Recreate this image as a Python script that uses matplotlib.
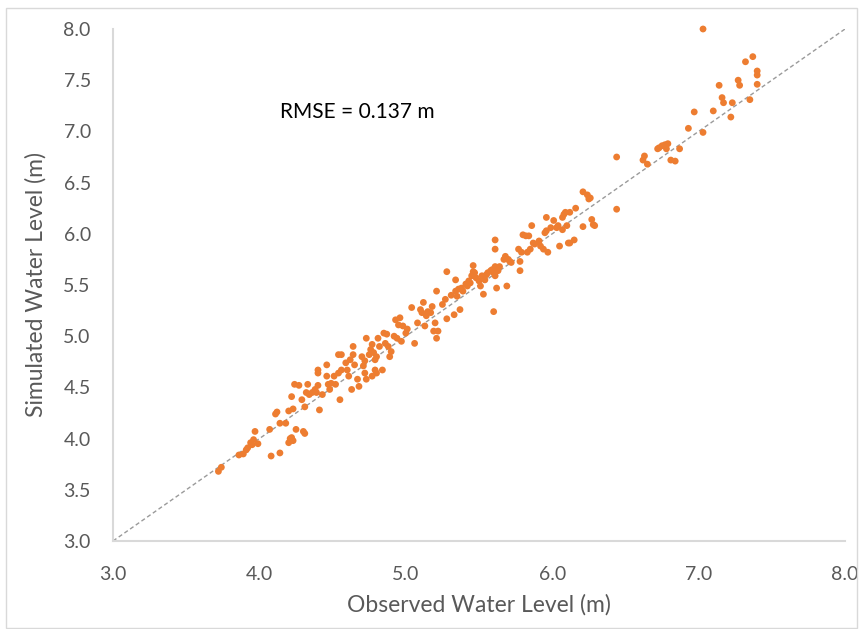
import matplotlib.pyplot as plt
from matplotlib.patches import Rectangle

plt.rcParams['font.family'] = ['Lato', 'DejaVu Sans']

# observed / simulated water level pairs (m)
obs = [3.72, 3.74,
       3.86, 3.89, 3.91, 3.92, 3.95, 3.96, 3.97, 3.99, 3.94, 4.08, 4.14, 4.07, 4.11, 4.12,
       4.14, 4.18, 4.20, 4.23, 4.22, 4.24, 4.27, 4.29, 4.31, 4.33, 4.34, 4.32, 4.21, 4.22,
       4.20, 4.23, 4.25, 4.31, 4.30, 4.36, 4.38, 4.39, 4.40, 4.41, 4.43, 4.40, 4.40, 4.46,
       4.47, 4.46, 4.48, 4.49, 4.51, 4.52, 4.54, 4.54, 4.55, 4.56,
       4.56, 4.59, 4.60, 4.62, 4.64, 4.64, 4.65, 4.61, 4.63, 4.67, 4.68, 4.70, 4.71, 4.72,
       4.73, 4.75, 4.76, 4.77, 4.78, 4.79, 4.80, 4.81, 4.79, 4.80, 4.77, 4.73, 4.72, 4.82,
       4.84, 4.85, 4.86, 4.87, 4.88, 4.89, 4.90, 4.92, 4.93, 4.94, 4.96, 4.97, 4.95, 4.98,
       5.00, 5.01, 5.04, 5.06, 5.08, 5.10, 5.11, 5.12, 5.13, 5.14, 5.15, 5.17, 5.18, 5.19,
       5.20, 5.21, 5.21, 5.22,
       5.25, 5.27, 5.28, 5.31, 5.33, 5.34, 5.35, 5.36, 5.37, 5.38, 5.39, 5.41, 5.42, 5.43,
       5.44, 5.45, 5.46, 5.47, 5.48, 5.50, 5.51, 5.52, 5.53, 5.54, 5.55, 5.56, 5.58, 5.59,
       5.60, 5.61, 5.60, 5.61, 5.62, 5.63, 5.64, 5.67, 5.68, 5.69, 5.70, 5.71, 5.72, 5.78,
       5.78, 5.77, 5.79, 5.80, 5.82, 5.83, 5.84, 5.85, 5.86, 5.87, 5.88, 5.91, 5.92, 5.94,
       5.95, 5.96, 5.97, 5.99, 6.01, 6.03, 6.05, 6.07, 6.10, 6.11, 5.46, 5.28, 5.34, 5.61,
       5.61,
       5.96, 6.04, 6.07, 6.08, 6.09, 6.12, 6.16, 6.12, 6.15, 6.21, 6.27, 6.28, 6.29, 6.21,
       6.24, 6.25, 6.26, 6.44, 6.44,
       6.63, 6.62, 6.65, 6.73, 6.72, 6.75, 6.77, 6.79, 6.78, 6.81, 6.84, 6.87, 6.93, 6.97,
       7.03, 7.10, 7.14, 7.16, 7.17, 7.22, 7.23, 7.27, 7.28, 7.32, 7.35, 7.37, 7.40, 7.40,
       7.40, 7.03]
sim = [3.68, 3.72,
       3.84, 3.85, 3.89, 3.91, 3.94, 3.99, 4.07, 3.95, 3.96, 3.83, 3.86, 4.09, 4.24, 4.26,
       4.15, 4.15, 4.27, 4.29, 4.41, 4.53, 4.52, 4.38, 4.31, 4.53, 4.43, 4.45, 4.00, 4.01,
       3.96, 3.98, 4.09, 4.05, 4.07, 4.45, 4.48, 4.45, 4.52, 4.28, 4.43, 4.64, 4.67, 4.72,
       4.53, 4.61, 4.48, 4.54, 4.61, 4.53, 4.64, 4.82, 4.38, 4.67,
       4.82, 4.74, 4.67, 4.77, 4.90, 4.82, 4.72, 4.61, 4.48, 4.58, 4.51, 4.80, 4.71, 4.76,
       4.98, 4.82, 4.87, 4.92, 4.84, 4.77, 4.80, 4.98, 4.67, 4.64, 4.61, 4.58, 4.64, 4.90,
       4.67, 5.03, 4.93, 5.02, 4.90, 4.80, 4.85, 5.00, 5.16, 4.98, 5.18, 4.95, 5.11, 5.10,
       5.03, 5.07, 5.28, 4.93, 5.13, 5.26, 5.23, 5.33, 5.10, 5.20, 5.24, 5.23, 5.29, 5.05,
       5.13, 5.44, 4.98, 5.05,
       5.31, 5.36, 5.17, 5.40, 5.21, 5.44, 5.39, 5.46, 5.26, 5.47, 5.44, 5.51, 5.49, 5.54,
       5.52, 5.59, 5.69, 5.62, 5.57, 5.54, 5.49, 5.59, 5.41, 5.55, 5.60, 5.62, 5.64, 5.65,
       5.62, 5.68, 5.24, 5.59, 5.47, 5.64, 5.68, 5.75, 5.78, 5.49, 5.75, 5.73, 5.72, 5.64,
       5.73, 5.85, 5.82, 5.99, 5.98, 5.82, 5.98, 5.85, 6.08, 5.91, 5.90, 5.93, 5.88, 5.85,
       6.01, 6.03, 5.82, 6.06, 6.13, 6.06, 5.88, 6.04, 6.08, 5.91, 5.63, 5.63, 5.55, 5.85,
       5.94,
       6.16, 6.08, 6.16, 6.19, 6.21, 6.21, 6.25, 5.91, 5.94, 6.07, 6.14, 6.09, 6.08, 6.41,
       6.38, 6.34, 6.35, 6.24, 6.75,
       6.76, 6.72, 6.68, 6.84, 6.83, 6.86, 6.87, 6.88, 6.83, 6.72, 6.71, 6.83, 7.03, 7.19,
       6.99, 7.20, 7.45, 7.33, 7.28, 7.14, 7.28, 7.50, 7.45, 7.68, 7.31, 7.73, 7.59, 7.55,
       7.46, 8.00]

xticks = [3.0, 4.0, 5.0, 6.0, 7.0, 8.0]
yticks = [3.0, 3.5, 4.0, 4.5, 5.0, 5.5, 6.0, 6.5, 7.0, 7.5, 8.0]

fig = plt.figure(figsize=(8.6, 6.29), dpi=100)
ax = fig.add_axes([0.1314, 0.1399, 0.8512, 0.8140])

# outer chart frame like Excel
fig.patches.append(Rectangle((0.007, 0.002), 0.990, 0.985, transform=fig.transFigure,
                             fill=False, edgecolor='#d9d9d9', linewidth=1.0))

ax.plot([3, 8], [3, 8], linestyle=(0, (3, 2)), color='#9a9a9a', linewidth=1.0, zorder=1)
ax.scatter(obs, sim, s=24, color='#ED7D31', edgecolors='none', zorder=2, clip_on=False)

ax.set_xlim(3, 8)
ax.set_ylim(3, 8)
ax.set_xticks(xticks)
ax.set_yticks(yticks)
ax.set_xticklabels(['%.1f' % v for v in xticks])
ax.set_yticklabels(['%.1f' % v for v in yticks])
ax.tick_params(length=0, labelsize=14, labelcolor='#595959')
ax.tick_params(axis='x', pad=18)
ax.tick_params(axis='y', pad=16)

for side in ['top', 'right']:
    ax.spines[side].set_visible(False)
for side in ['left', 'bottom']:
    ax.spines[side].set_color('#d9d9d9')
    ax.spines[side].set_linewidth(1.5)

ax.set_xlabel('Observed Water Level (m)', fontsize=16.5, color='#595959', labelpad=8)
ax.set_ylabel('Simulated Water Level (m)', fontsize=16.5, color='#595959', labelpad=12)

ax.text(4.14, 7.19, 'RMSE = 0.137 m', fontsize=15, color='black', va='center')

fig.savefig('out.png', dpi=100)
